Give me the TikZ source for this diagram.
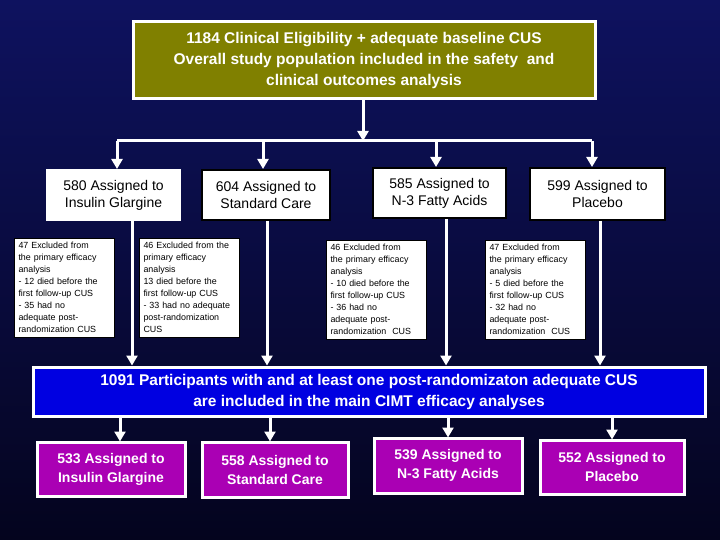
\documentclass[tikz,border=0pt]{standalone}
\usepackage{fontspec}
\setmainfont{Liberation Sans}
\usetikzlibrary{arrows.meta}
\definecolor{olive}{RGB}{128,128,0}
\definecolor{bblue}{RGB}{0,0,225}
\definecolor{mag}{RGB}{170,0,180}
\definecolor{navytop}{RGB}{14,18,95}
\definecolor{navybot}{RGB}{4,4,30}
\begin{document}
\begin{tikzpicture}[x=1pt,y=-1pt,
  arr/.style={draw=white,line width=3pt,-{Triangle[width=11pt,length=10pt]}},
  ln/.style={draw=white,line width=3pt},
  grp/.style={fill=white,draw=black,line width=2pt,align=center,font=\fontsize{14}{17}\selectfont,inner sep=0pt},
  exc/.style={fill=white,draw=black,line width=1pt,align=left,font=\fontsize{8.9}{12}\selectfont,inner xsep=4pt,inner ysep=4pt,anchor=north west,text width=92pt},
  big/.style={draw=white,line width=3pt,align=center,text=white,font=\bfseries\fontsize{15.5}{21}\selectfont,inner sep=0pt},
  bot/.style={fill=mag,draw=white,line width=3pt,align=center,text=white,font=\bfseries\fontsize{14}{19}\selectfont,inner sep=0pt}]
\shade[top color=navytop,bottom color=navybot] (0,0) rectangle (720,540);
\useasboundingbox (0,0) rectangle (720,540);
\node[big,fill=olive,minimum width=462,minimum height=77] (top) at (364,60.5) {1184 Clinical Eligibility + adequate baseline CUS\\Overall study population included in the safety\ \ and\\clinical outcomes analysis};
\node[grp,draw=white,minimum width=133,minimum height=50] (g1) at (113.5,195) {580 Assigned to\\Insulin Glargine};
\node[grp,minimum width=128,minimum height=50] (g2) at (266,195) {604 Assigned to\\Standard Care};
\node[grp,minimum width=133,minimum height=50] (g3) at (439.5,193) {585 Assigned to\\N-3 Fatty Acids};
\node[grp,minimum width=135,minimum height=52] (g4) at (597.5,194) {599 Assigned to\\Placebo};
\node[exc] (e1) at (14,238) {47 Excluded from\\the primary efficacy\\analysis\\- 12 died before the\\first follow-up CUS\\- 35 had no\\adequate post-\\randomization CUS};
\node[exc] (e2) at (139,238) {46 Excluded from the\\primary efficacy\\analysis\\13 died before the\\first follow-up CUS\\- 33 had no adequate\\post-randomization\\CUS};
\node[exc] (e3) at (326,240) {46 Excluded from\\the primary efficacy\\analysis\\- 10 died before the\\first follow-up CUS\\- 36 had no\\adequate post-\\randomization\ \ CUS};
\node[exc] (e4) at (485,240) {47 Excluded from\\the primary efficacy\\analysis\\- 5 died before the\\first follow-up CUS\\- 32 had no\\adequate post-\\randomization\ \ CUS};
\node[big,fill=bblue,minimum width=672,minimum height=49] (mid) at (369,391.5) {1091 Participants with and at least one post-randomizaton adequate CUS\\are included in the main CIMT efficacy analyses};
\node[bot,minimum width=148,minimum height=54] (b1) at (111,469) {533 Assigned to\\Insulin Glargine};
\node[bot,minimum width=146,minimum height=55] (b2) at (275,469.5) {558 Assigned to\\Standard Care};
\node[bot,minimum width=148,minimum height=55] (b3) at (448,465.5) {539 Assigned to\\N-3 Fatty Acids};
\node[bot,minimum width=144,minimum height=54] (b4) at (612,467) {552 Assigned to\\Placebo};
\coordinate (h0) at (363,141);
\coordinate (h1) at (117,141);
\coordinate (h2) at (263,141);
\coordinate (h3) at (436,141);
\coordinate (h4) at (592,141);
\draw[arr] (top.south -| h0) -- (h0);
\draw[ln] (h1) -- (h4);
\draw[arr] (h1) -- (h1 |- g1.north);
\draw[arr] (h2) -- (h2 |- g2.north);
\draw[arr] (h3) -- (h3 |- g3.north);
\draw[arr] (h4) -- (h4 |- g4.north);
\coordinate (v1) at (132,0);
\coordinate (v2) at (267,0);
\coordinate (v3) at (446,0);
\coordinate (v4) at (600,0);
\draw[arr] (v1 |- g1.south) -- (v1 |- mid.north);
\draw[arr] (v2 |- g2.south) -- (v2 |- mid.north);
\draw[arr] (v3 |- g3.south) -- (v3 |- mid.north);
\draw[arr] (v4 |- g4.south) -- (v4 |- mid.north);
\draw[arr] (mid.south -| b1.north) ++(9,0) -- ++(0,24);
\draw[arr] (mid.south -| b2.north) ++(-5,0) -- ++(0,24);
\draw[arr] (mid.south -| b3.north) -- ++(0,20);
\draw[arr] (mid.south -| b4.north) -- ++(0,22);
\end{tikzpicture}
\end{document}
